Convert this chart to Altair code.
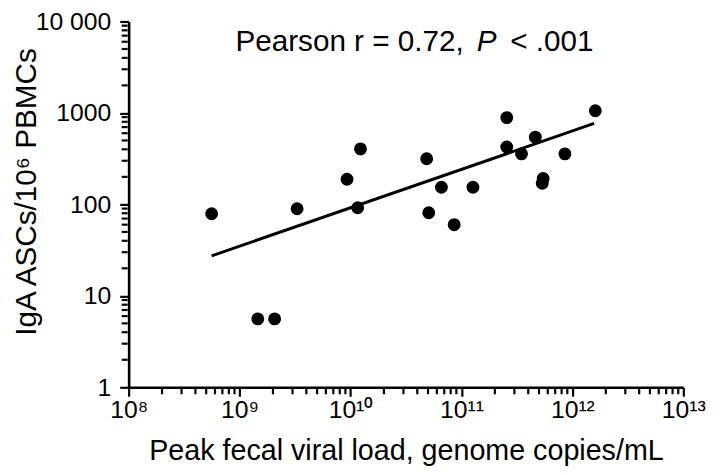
import altair as alt
import pandas as pd

# ---- data ----
viral_load = [5.6e8, 1.46e9, 2.07e9, 3.3e9, 9.3e9, 1.16e10, 1.23e10, 4.86e10,
              5.07e10, 6.6e10, 8.6e10, 1.27e11, 2.56e11, 2.56e11, 3.48e11,
              4.63e11, 5.45e11, 5.35e11, 8.56e11, 1.61e12]
iga_ascs = [79, 5.6, 5.6, 89.5, 188, 92, 404, 315, 81, 154, 60, 154, 889, 424,
            357, 543, 192, 170, 357, 1057]

fit_x = [5.6e8, 1.57e12]
fit_y = [27.4, 767]

x_major = [1e8, 1e9, 1e10, 1e11, 1e12, 1e13]
x_major_labels = ["10⁸", "10⁹", "10¹⁰", "10¹¹", "10¹²", "10¹³"]
x_minor = [float(m * 10 ** k) for k in range(8, 13) for m in range(2, 10)]
y_major = [1, 10, 100, 1000, 10000]
y_major_labels = ["1", "10", "100", "1000", "10 000"]
y_minor = [float(m * 10 ** k) for k in range(0, 4) for m in range(2, 10)]

annot_main = "Pearson r = 0.72,"
annot_p = "P"
annot_rest = "< .001"

x_title = "Peak fecal viral load, genome copies/mL"
y_title = "IgA ASCs/10⁶ PBMCs"

FONT = "Liberation Sans"
BLACK = "#000000"


def near(v):
    v = float(v)
    return f"abs(datum.value - {v}) < {v * 1e-6}"


def label_expr(values, labels):
    expr = "''"
    for v, l in zip(values, labels):
        expr = f"{near(v)} ? '{l}' : ({expr})"
    return expr


W, H = 561, 370
MINOR = 6

x_scale = alt.Scale(type="log", domain=[1e8, 1e13], nice=False)
y_scale = alt.Scale(type="log", domain=[1, 10000], nice=False)

common = dict(grid=False, tickColor=BLACK, domainColor=BLACK, labelColor=BLACK,
              labelFont=FONT, titleFont=FONT, titleColor=BLACK,
              titleFontWeight="normal", domainWidth=2.6, tickWidth=2.2,
              tickSize=9, labelFlush=False, labelOverlap=False, labelFontSize=25)

x_axis = alt.Axis(
    values=x_major, labelExpr=label_expr(x_major, x_major_labels),
    orient="bottom", labelPadding=2,
    title=x_title, titleFontSize=29,
    titleX=W / 2, titleY=73, titleBaseline="alphabetic", titleAlign="center",
    **common)
y_axis = alt.Axis(
    values=y_major, labelExpr=label_expr(y_major, y_major_labels),
    orient="left", labelPadding=9,
    title=y_title, titleFontSize=30,
    titleAngle=270, titleX=-94, titleY=H / 2 - 13,
    titleBaseline="alphabetic", titleAlign="center",
    **common)

df = pd.DataFrame({"load": viral_load, "ascs": iga_ascs})
fit_df = pd.DataFrame({"load": fit_x, "ascs": fit_y})
xminor_df = pd.DataFrame({"load": x_minor})
yminor_df = pd.DataFrame({"ascs": y_minor})


def x_enc():
    return alt.X("load:Q", scale=x_scale, axis=x_axis)


def y_enc():
    return alt.Y("ascs:Q", scale=y_scale, axis=y_axis)


# minor ticks: centred just outside the axis line so they point outward
x_minor_ticks = alt.Chart(xminor_df).mark_tick(
    color=BLACK, thickness=2.2, size=MINOR, orient="vertical", opacity=1
).encode(x=x_enc(), y=alt.value(H + MINOR / 2 + 1))
y_minor_ticks = alt.Chart(yminor_df).mark_tick(
    color=BLACK, thickness=2.2, size=MINOR, orient="horizontal", opacity=1
).encode(y=y_enc(), x=alt.value(-(MINOR / 2 + 1)))

line = alt.Chart(fit_df).mark_line(color=BLACK, strokeWidth=3).encode(
    x=x_enc(), y=y_enc())

points = alt.Chart(df).mark_circle(size=170, color=BLACK, opacity=1).encode(
    x=x_enc(), y=y_enc())

text_style = dict(font=FONT, fontSize=30, align="left", baseline="alphabetic", color=BLACK)
t1 = alt.Chart(pd.DataFrame({"t": [annot_main]})).mark_text(**text_style).encode(
    x=alt.value(108), y=alt.value(30), text="t:N")
t2 = alt.Chart(pd.DataFrame({"t": [annot_p]})).mark_text(fontStyle="italic", **text_style).encode(
    x=alt.value(352), y=alt.value(30), text="t:N")
t3 = alt.Chart(pd.DataFrame({"t": [annot_rest]})).mark_text(**text_style).encode(
    x=alt.value(386), y=alt.value(30), text="t:N")

chart = alt.layer(line, points, x_minor_ticks, y_minor_ticks, t1, t2, t3).properties(
    width=W, height=H,
    autosize=alt.AutoSizeParams(type="none"),
    padding={"left": 122, "top": 11, "right": 29, "bottom": 80},
    background="white",
).configure_view(strokeWidth=0)

chart.save("out.html", embed_options={"renderer": "svg", "actions": False})
